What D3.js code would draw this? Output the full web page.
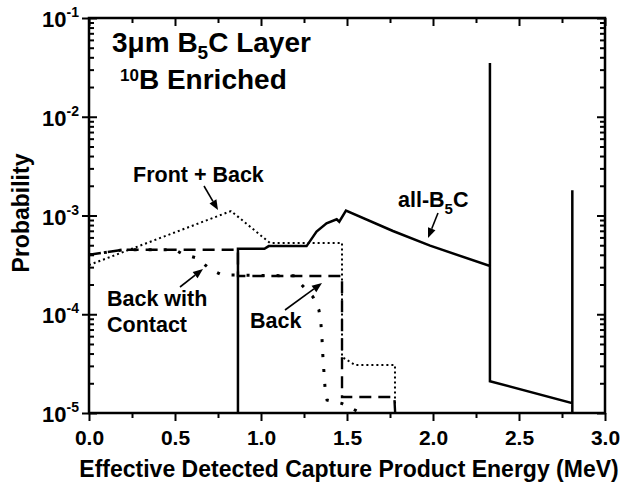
<!DOCTYPE html>
<html><head><meta charset="utf-8">
<script src="https://cdn.jsdelivr.net/npm/d3@7/dist/d3.min.js"></script>
<style>
html,body{margin:0;padding:0;background:#fff;}
text{font-family:"Liberation Sans",Arial,sans-serif;font-weight:bold;fill:#000;}
</style></head>
<body><svg id="chart" width="625" height="485"></svg>
<script>
// ---- data ----
const xTicks = [0.0, 0.5, 1.0, 1.5, 2.0, 2.5, 3.0];
const xTickLabels = ["0.0","0.5","1.0","1.5","2.0","2.5","3.0"];
const yTicks = [1e-1, 1e-2, 1e-3, 1e-4, 1e-5];
const yTickExps = ["-1","-2","-3","-4","-5"];

const allB5C_E = [0.866,0.866,1.02,1.045,1.265,1.323,1.381,1.44,1.455,1.494,1.767,1.983,2.331,2.331,2.331,2.81,2.81,2.81];
const allB5C_P = [1e-5,4.6e-4,4.6e-4,4.9e-4,4.9e-4,6.86e-4,8.34e-4,9.15e-4,8.65e-4,1.12e-3,6.97e-4,4.95e-4,3.08e-4,3.5e-2,2.1e-5,1.26e-5,1.8e-3,1e-5];

const frontBack_E = [0, 0.826, 1.052, 1.471, 1.471, 1.547, 1.779, 1.779];
const frontBack_P = [3.15e-4, 1.11e-3, 5.27e-4, 5.27e-4, 3.7e-5, 3.06e-5, 3.06e-5, 1e-5];

const back_E = [0, 0.2, 0.866, 0.866, 1.471, 1.471, 1.775, 1.78];
const back_P = [4.0e-4, 4.5e-4, 4.5e-4, 2.44e-4, 2.44e-4, 1.45e-5, 1.45e-5, 1e-5];

const backContact_E = [0, 0.2, 0.5, 0.54, 0.628, 0.703, 0.773, 1.2, 1.227, 1.302, 1.337, 1.349, 1.355, 1.36, 1.372, 1.384, 1.47, 1.58];
const backContact_P = [4.0e-4, 4.5e-4, 4.5e-4, 4.1e-4, 3.7e-4, 2.87e-4, 2.5e-4, 2.45e-4, 2.07e-4, 1.5e-4, 1.1e-4, 7.8e-5, 5.5e-5, 3.7e-5, 1.83e-5, 1.35e-5, 1.25e-5, 1e-5];

// ---- layout ----
const L = 89, R = 605, T = 18, B = 413;
const svg = d3.select("#chart");
svg.append("rect").attr("width",625).attr("height",485).attr("fill","#fff");

const x = d3.scaleLinear().domain([0,3]).range([L,R]);
const y = d3.scaleLog().domain([1e-5,1e-1]).range([B,T]);

svg.append("defs").append("clipPath").attr("id","clip")
  .append("rect").attr("x",L).attr("y",T).attr("width",R-L).attr("height",B-T);

const line = d3.line().x(d=>x(d[0])).y(d=>y(d[1]));
function series(E,P){ return E.map((e,i)=>[e,P[i]]); }

const g = svg.append("g").attr("clip-path","url(#clip)");
g.append("path").attr("d", line(series(frontBack_E,frontBack_P)))
  .attr("fill","none").attr("stroke","#000").attr("stroke-width",2).attr("stroke-dasharray","2,3");
g.append("path").attr("d", line(series(back_E,back_P)))
  .attr("fill","none").attr("stroke","#000").attr("stroke-width",2.4).attr("stroke-dasharray","12,7");
g.append("path").attr("d", line(series(backContact_E,backContact_P)))
  .attr("fill","none").attr("stroke","#000").attr("stroke-width",3).attr("stroke-dasharray","3,12");
g.append("path").attr("d", line(series(allB5C_E,allB5C_P)))
  .attr("fill","none").attr("stroke","#000").attr("stroke-width",2.5).attr("stroke-linejoin","miter");

// ---- axes ----
const xMinor = d3.range(0.25,3,0.5);
const bottom = d3.axisBottom(x).tickValues(xTicks).tickFormat((d,i)=>xTickLabels[i]).tickSizeInner(8).tickSizeOuter(0).tickPadding(9);
const gb = svg.append("g").attr("transform",`translate(0,${B})`).call(bottom);
gb.append("g").call(d3.axisBottom(x).tickValues(xMinor).tickSize(5).tickFormat(""));
const gt = svg.append("g").attr("transform",`translate(0,${T})`);
gt.call(d3.axisBottom(x).tickValues(xTicks).tickSize(8).tickFormat(""));
gt.append("g").call(d3.axisBottom(x).tickValues(xMinor).tickSize(5).tickFormat(""));

const yMinor = [];
[-5,-4,-3,-2].forEach(k=>{ for(let m=2;m<=9;m++) yMinor.push(m*Math.pow(10,k)); });
const gl = svg.append("g").attr("transform",`translate(${L},0)`);
gl.call(d3.axisLeft(y).tickValues(yTicks).tickSizeInner(-8).tickSizeOuter(0).tickFormat(""));
gl.append("g").call(d3.axisLeft(y).tickValues(yTicks).tickSize(7).tickFormat(""));
gl.append("g").call(d3.axisLeft(y).tickValues(yMinor).tickSize(-5).tickFormat(""));
const gr = svg.append("g").attr("transform",`translate(${R},0)`);
gr.call(d3.axisRight(y).tickValues(yTicks).tickSize(-8).tickFormat(""));
gr.append("g").call(d3.axisRight(y).tickValues(yMinor).tickSize(-5).tickFormat(""));

svg.selectAll(".tick line").attr("stroke","#000").attr("stroke-width",2);
svg.selectAll(".domain").remove();
gb.selectAll(".tick text").attr("font-size",21).attr("font-family","Liberation Sans, Arial, sans-serif").attr("font-weight","bold");

// y tick labels
yTicks.forEach((v,i)=>{
  const t = svg.append("text").attr("x",79).attr("y",y(v)+9).attr("text-anchor","end").attr("font-size",22);
  t.append("tspan").text("10");
  t.append("tspan").attr("font-size",14).attr("dy",-10).text(yTickExps[i]);
});

// frame
svg.append("rect").attr("x",L).attr("y",T).attr("width",R-L).attr("height",B-T)
  .attr("fill","none").attr("stroke","#000").attr("stroke-width",2.5);

// axis titles
svg.append("text").attr("x",(75+623)/2).attr("y",477).attr("text-anchor","middle").attr("font-size",23)
  .text("Effective Detected Capture Product Energy (MeV)");
svg.append("text").attr("transform","translate(29,213) rotate(-90)").attr("text-anchor","middle").attr("font-size",23)
  .text("Probability");

// title
const t1 = svg.append("text").attr("x",112).attr("y",52).attr("font-size",28);
t1.append("tspan").text("3\u03BCm B");
t1.append("tspan").attr("font-size",19).attr("dy",7).text("5");
t1.append("tspan").attr("dy",-7).text("C Layer");
const t2 = svg.append("text").attr("x",120).attr("y",89).attr("font-size",28);
t2.append("tspan").attr("font-size",17).attr("dy",-8).text("10");
t2.append("tspan").attr("dy",8).text("B Enriched");

// annotations
svg.append("text").attr("x",133).attr("y",182).attr("font-size",21.5).text("Front + Back");
const a1 = svg.append("text").attr("x",398).attr("y",207).attr("font-size",21.5);
a1.append("tspan").text("all-B");
a1.append("tspan").attr("font-size",15).attr("dy",7).text("5");
a1.append("tspan").attr("dy",-7).text("C");
svg.append("text").attr("x",107).attr("y",306).attr("font-size",21.5).text("Back with");
svg.append("text").attr("x",107).attr("y",332).attr("font-size",21.5).text("Contact");
svg.append("text").attr("x",250).attr("y",328).attr("font-size",21.5).text("Back");

function arrow(x1,y1,x2,y2){
  const ang = Math.atan2(y2-y1,x2-x1), len=10, w=4;
  const bx = x2 - len*Math.cos(ang), by = y2 - len*Math.sin(ang);
  svg.append("line").attr("x1",x1).attr("y1",y1).attr("x2",bx).attr("y2",by).attr("stroke","#000").attr("stroke-width",1.6);
  const px = -Math.sin(ang)*w, py = Math.cos(ang)*w;
  svg.append("path").attr("d",`M${x2},${y2}L${bx+px},${by+py}L${bx-px},${by-py}Z`).attr("fill","#000");
}
arrow(204,186,218,210);
arrow(438,213,428,238);
arrow(180,287,203,269);
arrow(285,310,322,283);
</script></body></html>
